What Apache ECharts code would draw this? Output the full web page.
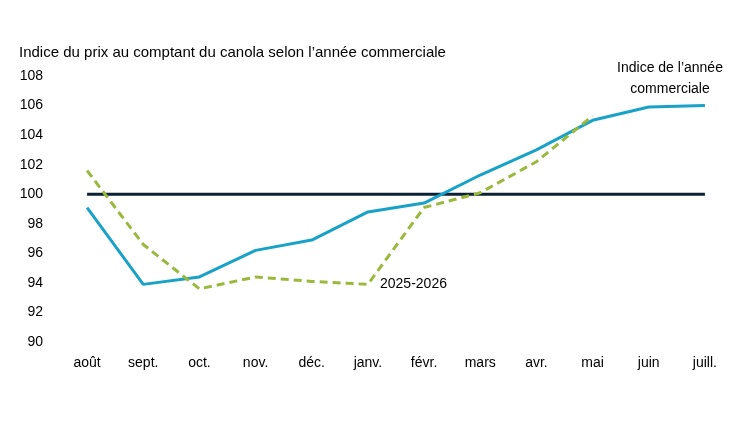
<!DOCTYPE html>
<html><head><meta charset="utf-8">
<script src="https://cdn.jsdelivr.net/npm/echarts@6/dist/echarts.min.js"></script>
<style>html,body{margin:0;background:#fff}#c{width:750px;height:422px}</style>
</head><body><div id="c"></div>
<script>
const categories = ['août','sept.','oct.','nov.','déc.','janv.','févr.','mars','avr.','mai','juin','juill.'];
const indexYear = [99.1,93.9,94.4,96.2,96.9,98.8,99.4,101.3,103.0,105.0,105.9,106.0];
const season2526 = [101.6,96.6,93.6,94.4,94.1,93.9,99.1,100.1,102.2,105.3,null,null];
const baseline = [100,100,100,100,100,100,100,100,100,100,100,100];
const font = 'Liberation Sans';
const chart = echarts.init(document.getElementById('c'));
chart.setOption({
  animation:false,
  textStyle:{fontFamily:font},
  title:{text:"Indice du prix au comptant du canola selon l’année commerciale",left:14,top:40,
    textStyle:{fontSize:15,fontWeight:'normal',color:'#000',fontFamily:font}},
  grid:{left:59,right:17,top:76,bottom:80},
  xAxis:{type:'category',data:categories,boundaryGap:true,
    axisLine:{show:false},axisTick:{show:false},
    axisLabel:{color:'#000',fontSize:14,margin:14}},
  yAxis:{type:'value',min:90,max:108,interval:2,splitLine:{show:false},
    axisLabel:{color:'#000',fontSize:14,margin:16}},
  graphic:[
    {type:'text',x:670,y:58,style:{text:'Indice de l’année\ncommerciale',fontSize:14,lineHeight:21,fill:'#000',align:'center',fontFamily:font}},
    {type:'text',left:380,top:277,style:{text:'2025-2026',fontSize:14,fill:'#000',fontFamily:font}}
  ],
  series:[
    {type:'line',data:baseline,symbol:'none',lineStyle:{color:'#0c2133',width:3}},
    {type:'line',data:indexYear,symbol:'none',lineStyle:{color:'#18a2c8',width:3}},
    {type:'line',data:season2526,symbol:'none',lineStyle:{color:'#9ab83c',width:3,type:[8,5]}}
  ]
});
</script></body></html>
